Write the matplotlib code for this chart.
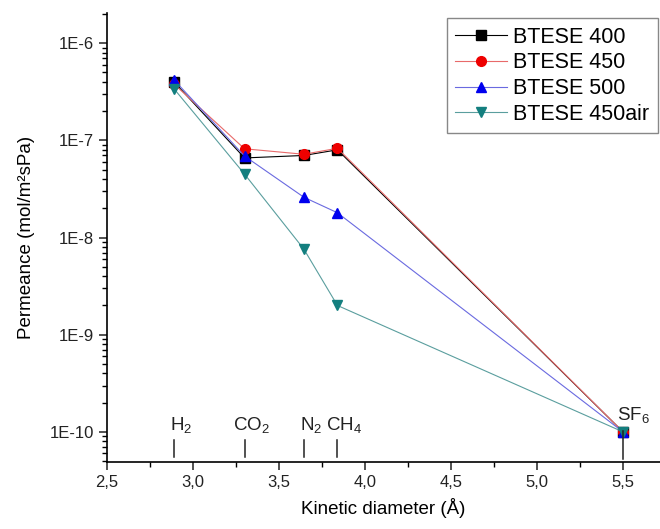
#Permeance vs kinetic diameter for the BTESE membranes
import matplotlib
matplotlib.use('Agg')
import matplotlib.pyplot as plt
import matplotlib.transforms as mtransforms
from matplotlib.ticker import FuncFormatter, MultipleLocator, LogLocator, NullFormatter
import numpy as np

plt.rcParams['font.family'] = ['Liberation Sans', 'DejaVu Sans']
plt.rcParams['mathtext.default'] = 'regular'

# kinetic diameters (A) of H2, CO2, N2, CH4, SF6
gases = ['H$_2$', 'CO$_2$', 'N$_2$', 'CH$_4$', 'SF$_6$']
diam = [2.89, 3.30, 3.645, 3.84, 5.50]

# permeance (mol/m2 s Pa)
btese400 = [4.0e-7, 6.6e-8, 7.0e-8, 8.0e-8, 1.0e-10]
btese450 = [3.8e-7, 8.2e-8, 7.2e-8, 8.3e-8, 1.0e-10]
btese500 = [4.2e-7, 6.9e-8, 2.6e-8, 1.8e-8, 1.0e-10]
btese450air = [3.4e-7, 4.5e-8, 7.6e-9, 2.0e-9, 1.0e-10]

fig = plt.figure(figsize=(6.6, 5.29), dpi=100)
ax = fig.add_axes([0.162, 0.127, 0.838, 0.848])

series = [
    (btese400, 'BTESE 400', 's', '#000000', '#000000'),
    (btese450, 'BTESE 450', 'o', '#ee0000', '#e86a6a'),
    (btese500, 'BTESE 500', '^', '#0000ee', '#6a6ae0'),
    (btese450air, 'BTESE 450air', 'v', '#137f7f', '#5a9e9e'),
]
for y, lab, mk, mc, lc in series:
    ax.plot(diam, y, color=lc, lw=0.8, marker=mk, ms=7,
            mfc=mc, mec=mc, label=lab)

ax.set_yscale('log')
ax.set_xlim(2.5, 5.715)
ax.set_ylim(10**-10.308, 10**-5.691)

ax.xaxis.set_major_locator(MultipleLocator(0.5))
ax.xaxis.set_minor_locator(MultipleLocator(0.25))
ax.xaxis.set_major_formatter(FuncFormatter(lambda v, p: ('%.1f' % v).replace('.', ',')))
ax.yaxis.set_major_locator(LogLocator(base=10, numticks=10))
ax.yaxis.set_minor_locator(LogLocator(base=10, subs=np.arange(2, 10), numticks=10))
ax.yaxis.set_major_formatter(FuncFormatter(lambda v, p: '1E%d' % round(np.log10(v))))
ax.yaxis.set_minor_formatter(NullFormatter())

for s in ['top', 'right']:
    ax.spines[s].set_visible(False)
for s in ['left', 'bottom']:
    ax.spines[s].set_linewidth(1.2)
ax.tick_params(which='major', length=6, width=1.1, labelsize=12, colors='#222222')
ax.tick_params(which='minor', length=3.5, width=1)

ax.set_xlabel('Kinetic diameter (Å)', fontsize=13.5, labelpad=6)
ax.set_ylabel('Permeance (mol/m²sPa)', fontsize=13.5, labelpad=10)

# gas markers along the bottom of the plot
trans = mtransforms.blended_transform_factory(ax.transData, ax.transAxes)
for g, d in zip(gases[:4], diam[:4]):
    ax.plot([d, d], [0.011, 0.049], color='#222222', lw=1.1, transform=trans)
    ax.text(d + 0.04, 0.071, g, transform=trans, ha='center', va='baseline',
            fontsize=13.5, color='#222222')
ax.plot([diam[4], diam[4]], [0.007, 0.068], color='#222222', lw=1.1, transform=trans)
ax.text(diam[4] + 0.06, 0.094, gases[4], transform=trans, ha='center', va='baseline',
        fontsize=13.5, color='#222222')

leg = ax.legend(loc='upper right', bbox_to_anchor=(658 / 660, 1 - 18 / 529),
                bbox_transform=fig.transFigure, fontsize=15.5, labelspacing=0.22,
                handlelength=2.4, handletextpad=0.3, borderpad=0.4,
                borderaxespad=0, fancybox=False, framealpha=1)
leg.get_frame().set_edgecolor('#888888')
leg.get_frame().set_linewidth(1)

fig.savefig('out.png', dpi=100)
